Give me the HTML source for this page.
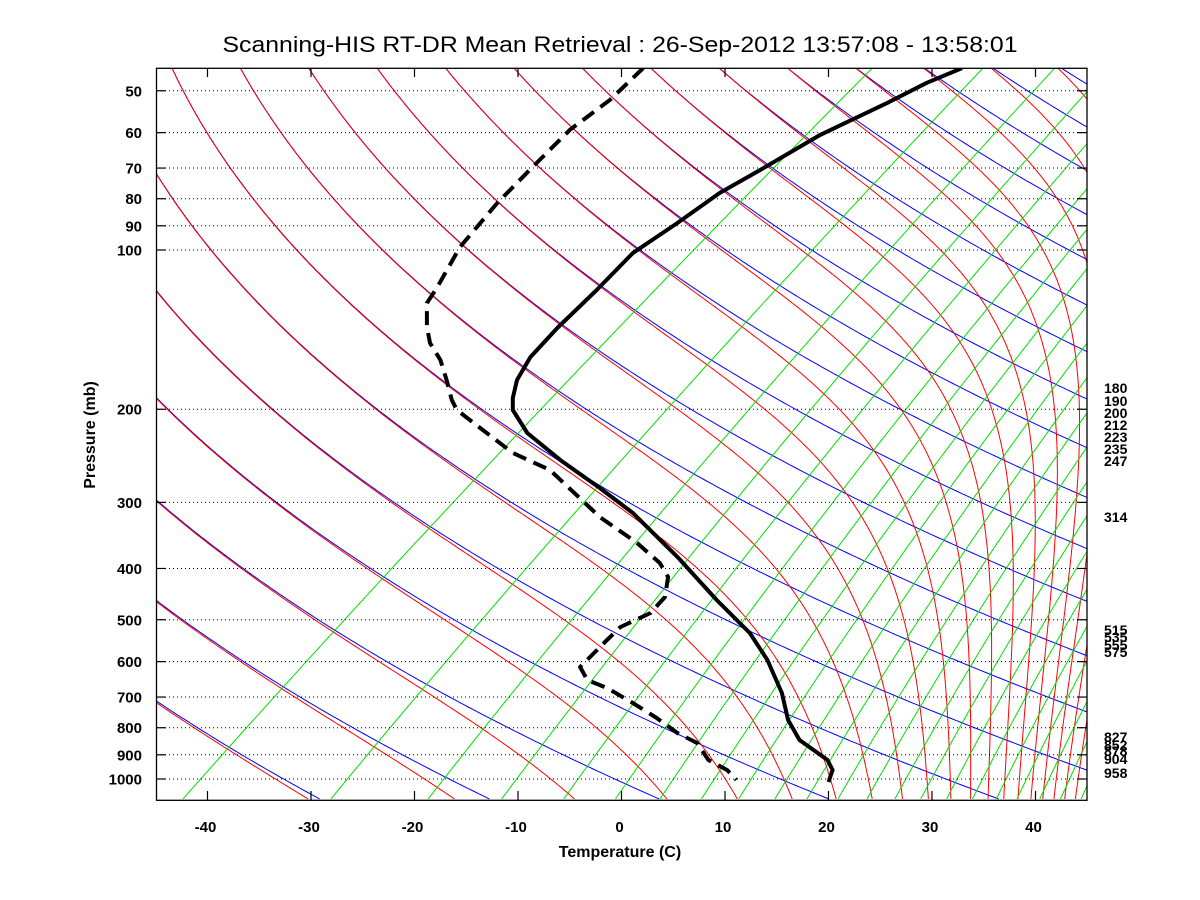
<!DOCTYPE html>
<html><head><meta charset="utf-8"><style>
html,body{margin:0;padding:0;background:#fff;}
svg{display:block;}
text{font-family:"Liberation Sans",Arial,sans-serif;}
</style></head><body>
<svg id="chart" width="1200" height="900" viewBox="0 0 1200 900" xmlns="http://www.w3.org/2000/svg">
<rect x="0" y="0" width="1200" height="900" fill="#fff"/>
<defs><clipPath id="plotclip"><rect x="156.5" y="68.3" width="930.5" height="732"/></clipPath></defs>
<text x="620" y="52" text-anchor="middle" font-size="22" textLength="795" lengthAdjust="spacingAndGlyphs">Scanning-HIS RT-DR Mean Retrieval : 26-Sep-2012 13:57:08 - 13:58:01</text>
<g id="bg" clip-path="url(#plotclip)"></g>
<g id="grid"></g>
<g id="profiles" clip-path="url(#plotclip)"></g>
<rect x="156.5" y="68.3" width="930.5" height="732" fill="none" stroke="#000" stroke-width="1.3"/>
<g id="axes"></g>
<text x="620" y="857" text-anchor="middle" font-size="16" font-weight="bold">Temperature (C)</text>
<text transform="translate(95,435) rotate(-90)" text-anchor="middle" font-size="16" font-weight="bold">Pressure (mb)</text>
<g id="rlabels"></g>
</svg>
<script>
// ---- data ----
const tempPressure = [45.3,48.3,52.7,60.6,70.6,78.0,88.9,101.3,119,140.4,159.4,176.1,190.5,200.7,221.8,249.5,281.8,314.2,380.4,458.8,529.7,595.7,687.8,773.6,843.8,920.7,961.6,1013];
const tempValues = [32.9,29.5,25.7,19.2,13.4,9.5,5.4,1.1,-2.4,-6.2,-8.8,-10.1,-10.5,-10.5,-9.1,-5.9,-2.1,1.1,5.4,9.2,12.4,14.1,15.5,16.1,17.2,19.9,20.4,20.0];
const dewPressure = [45.3,52.0,59.3,69.7,81.5,98.7,117.5,126,139.8,149.9,161.4,176.1,192.1,200.7,218.9,241.9,260.6,319.7,357.9,390.6,415.1,452.9,485.6,516.1,546.1,614.2,650.0,672.9,718.4,766.8,818.5,855,920.7,961.6,1004];
const dewValues = [2.1,-1.1,-5.0,-8.6,-12.0,-15.6,-17.8,-18.8,-18.8,-18.5,-17.5,-16.9,-16.4,-15.9,-13.4,-10.5,-6.9,-2.1,1.5,3.7,4.5,4.2,2.8,-0.1,-1.4,-4.0,-3.3,-1.4,1.1,3.4,5.4,7.3,8.4,10.2,11.1];
const xTicks = [-40,-30,-20,-10,0,10,20,30,40];
const pTicks = [50,60,70,80,90,100,200,300,400,500,600,700,800,900,1000];
const levelLabels = ["180","190","200","212","223","235","247","314","515","535","555","575","827","852","878","904","958"];
const levelY = [388,401,413,425,437,449,461,517,630,637,645,652,737,745,751,759,773];
const mixBottomT = [-42.4,-28.1,-18.7,-11.6,-5.6,-0.6,3.7,7.7,11.3,14.8,17.9,20.9,23.7,26.4,28.9,31.4,33.9,36.2,38.2,40.4,42.4,44.4];

// ---- axes ----
const X0=621.5, XS=10.35, YP=250, YS=529, K=67.5, PBOT=1092;
const xs = t => X0 + t*XS;
const ys = p => YP + YS*Math.log10(p/100);
const skew = p => K*Math.log10(1000/p);
const NS="http://www.w3.org/2000/svg";
function mk(tag, attrs, parent){const e=document.createElementNS(NS,tag);for(const k in attrs)e.setAttribute(k,attrs[k]);parent.appendChild(e);return e;}
const bg=document.getElementById('bg'), grid=document.getElementById('grid'), axes=document.getElementById('axes'), prof=document.getElementById('profiles'), rl=document.getElementById('rlabels');

// pressure steps
const plist=[]; for(let lp=Math.log(44);lp<=Math.log(1100);lp+=0.01)plist.push(Math.exp(lp));
function polyPts(arr){return arr.map(a=>a[0].toFixed(1)+','+a[1].toFixed(1)).join(' ');}

// dry adiabats
const thetas=[]; for(let th=128.5;th<=600;th+=16)thetas.push(th);
thetas.forEach(th=>{
  const pts=plist.map(p=>{const T=th*Math.pow(p/1000,0.2857)-273.15;return [xs(T+skew(p)),ys(p)];});
  const e=mk('polyline',{points:polyPts(pts),fill:'none',stroke:'#0000ff','stroke-width':1},bg);
  
  
});
// moist adiabats
const Rd=287.04,Cp=1005.7,Lv=2.501e6,eps=0.622;
function es(Tc){return 6.112*Math.exp(17.67*Tc/(Tc+243.5));}
function dTdlnp(T,p){const e=es(T-273.15);const rs=eps*e/Math.max(p-e,1);return (Rd*T+Lv*rs)/(Cp+Lv*Lv*rs*eps/(Rd*T*T));}
thetas.forEach(th=>{
  let p=44,T=th*Math.pow(p/1000,0.2857);const pts=[];const h=0.01;
  while(p<=1100){
    pts.push([xs(T-273.15+skew(p)),ys(p)]);
    const lp=Math.log(p);
    const k1=dTdlnp(T,p);const k2=dTdlnp(T+k1*h,Math.exp(lp+h));
    T+=h*(k1+k2)/2;p=Math.exp(lp+h);
  }
  const e=mk('polyline',{points:polyPts(pts),fill:'none',stroke:'#ff0000','stroke-width':1},bg);
  
  
});
// mixing ratio lines
mixBottomT.forEach(xb=>{
  const Td=xb-skew(PBOT);const e0=es(Td);const w=eps*e0/(PBOT-e0);
  const pts=plist.map(p=>{const e=w*p/(eps+w);const l=Math.log(e/6.112);const td=243.5*l/(17.67-l);return [xs(td+skew(p)),ys(p)];});
  const el=mk('polyline',{points:polyPts(pts),fill:'none',stroke:'#00e000','stroke-width':1},bg);
  
  
});

// grid + y ticks
pTicks.forEach(p=>{
  const y=ys(p);
  const g=mk('line',{x1:157,x2:1087,y1:y,y2:y,stroke:'#000','stroke-width':1,'stroke-dasharray':'1 3'},grid);
  
  
  mk('line',{x1:156.5,x2:166,y1:y,y2:y,stroke:'#000','stroke-width':1.2},axes);
  mk('line',{x1:1077,x2:1087,y1:y,y2:y,stroke:'#000','stroke-width':1.2},axes);
  const t=mk('text',{x:142,y:y+5.5,'text-anchor':'end','font-size':15,'font-weight':'bold'},axes);
  t.textContent=p;
  
  
});
xTicks.forEach(v=>{
  const x=xs(v);
  mk('line',{x1:x,x2:x,y1:800,y2:791,stroke:'#000','stroke-width':1.2},axes);
  mk('line',{x1:x,x2:x,y1:68.3,y2:77,stroke:'#000','stroke-width':1.2},axes);
  const t=mk('text',{x:x-2,y:832,'text-anchor':'middle','font-size':15,'font-weight':'bold'},axes);
  t.textContent=v;
  
  
});
levelLabels.forEach((s,i)=>{
  const t=mk('text',{x:1104,y:levelY[i]+5,'font-size':14,'font-weight':'bold'},rl);
  t.textContent=s;
  
  
});

// profiles
function prPts(P,V){return P.map((p,i)=>[xs(V[i]),ys(p)]);}
const dl=mk('polyline',{points:polyPts(prPts(dewPressure,dewValues)),fill:'none',stroke:'#000','stroke-width':4,'stroke-dasharray':'14 8','stroke-linejoin':'round'},prof);


const tl=mk('polyline',{points:polyPts(prPts(tempPressure,tempValues)),fill:'none',stroke:'#000','stroke-width':4,'stroke-linejoin':'round'},prof);


</script>
</body></html>
